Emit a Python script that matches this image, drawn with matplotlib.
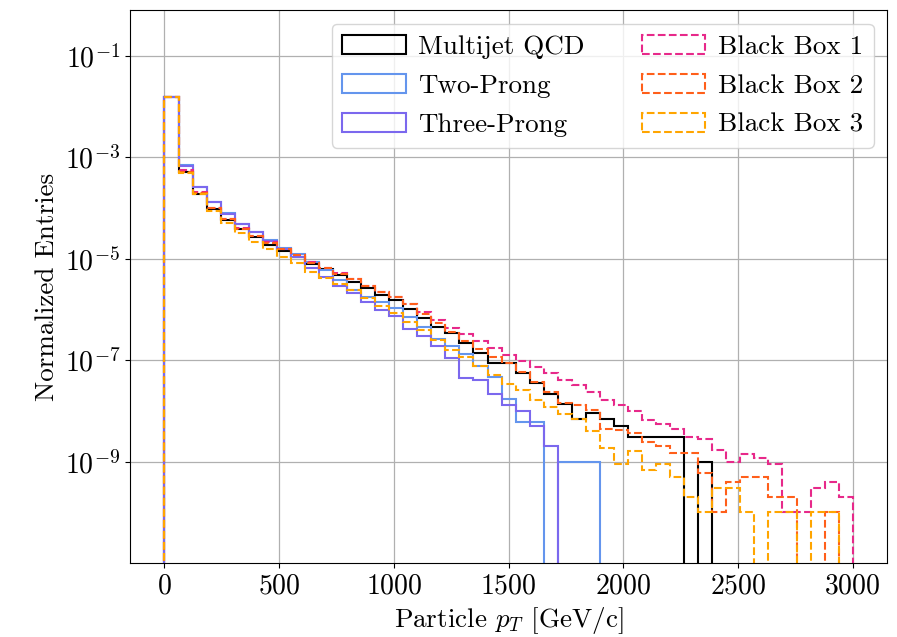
import numpy as np
import matplotlib
matplotlib.use("Agg")
import matplotlib.pyplot as plt
from matplotlib.ticker import NullLocator, FixedLocator

plt.rcParams.update({
    "font.family": "serif",
    "font.serif": ["cmr10"],
    "mathtext.fontset": "cm",
    "axes.formatter.use_mathtext": True,
    "axes.unicode_minus": False,
})

# 49 equal-width bins between 0 and 3000 GeV/c
bin_edges = np.linspace(0, 3000, 50)

multijet_qcd = [
    0.0153, 5.2e-4, 1.94e-4, 9.8e-5, 5.9e-5, 3.85e-5, 2.68e-5, 1.91e-5, 1.44e-5, 1.08e-5,
    8.0e-6, 6.3e-6, 4.84e-6, 3.57e-6, 2.69e-6, 1.95e-6, 1.51e-6, 1.02e-6, 6.7e-7, 4.5e-7,
    3.43e-7, 2.18e-7, 1.39e-7, 9.0e-8, 8.8e-8, 5.7e-8, 3.6e-8, 2.2e-8, 1.4e-8, 7e-9,
    9e-9, 7e-9, 5e-9, 3e-9, 3e-9, 3e-9, 3e-9, 0, 1e-9, 0,
    0, 0, 0, 0, 0, 0, 0, 0, 0,
]
two_prong = [
    0.0153, 7.1e-4, 2.66e-4, 1.35e-4, 8.0e-5, 4.9e-5, 3.4e-5, 2.3e-5, 1.63e-5, 1.22e-5,
    8.7e-6, 5.9e-6, 3.9e-6, 2.4e-6, 1.8e-6, 1.38e-6, 1.07e-6, 7.0e-7, 4.6e-7, 2.6e-7,
    1.9e-7, 1.3e-7, 7.8e-8, 4.7e-8, 1.7e-8, 6e-9, 6e-9, 0, 1e-9, 1e-9,
    1e-9, 0, 0, 0, 0, 0, 0, 0, 0, 0,
    0, 0, 0, 0, 0, 0, 0, 0, 0,
]
three_prong = [
    0.0153, 6.9e-4, 2.62e-4, 1.33e-4, 7.8e-5, 4.8e-5, 3.35e-5, 2.25e-5, 1.58e-5, 1.1e-5,
    6.5e-6, 4.3e-6, 2.94e-6, 2.11e-6, 1.44e-6, 9.9e-7, 7.3e-7, 4.1e-7, 3.0e-7, 1.87e-7,
    1.1e-7, 4.5e-8, 4.1e-8, 2.2e-8, 1.3e-8, 1.0e-8, 5e-9, 2e-9, 0, 0,
    0, 0, 0, 0, 0, 0, 0, 0, 0, 0,
    0, 0, 0, 0, 0, 0, 0, 0, 0,
]
black_box_1 = [
    0.0153, 5.6e-4, 2.05e-4, 1.02e-4, 6.2e-5, 4.0e-5, 2.85e-5, 2.1e-5, 1.57e-5, 1.2e-5,
    8.6e-6, 6.7e-6, 5.2e-6, 4.0e-6, 2.95e-6, 2.25e-6, 1.75e-6, 1.28e-6, 8.75e-7, 6.3e-7,
    4.4e-7, 3.3e-7, 2.35e-7, 1.74e-7, 1.28e-7, 9.5e-8, 7.2e-8, 5.6e-8, 4.0e-8, 3.2e-8,
    2.36e-8, 1.67e-8, 1.31e-8, 9.8e-9, 6.7e-9, 5.6e-9, 4.4e-9, 3.0e-9, 2.8e-9, 1.7e-9,
    1.0e-9, 1.4e-9, 1.2e-9, 9e-10, 1e-10, 1e-10, 3e-10, 4e-10, 2e-10,
]
black_box_2 = [
    0.0153, 5.2e-4, 1.98e-4, 1.0e-4, 6.1e-5, 3.9e-5, 2.8e-5, 2.07e-5, 1.56e-5, 1.2e-5,
    8.45e-6, 6.56e-6, 5.06e-6, 3.98e-6, 2.85e-6, 2.17e-6, 1.73e-6, 1.28e-6, 8.3e-7, 5.4e-7,
    3.53e-7, 2.45e-7, 1.69e-7, 1.16e-7, 9.0e-8, 5.75e-8, 3.8e-8, 2.4e-8, 1.44e-8, 1.33e-8,
    1.03e-8, 4.5e-9, 4.3e-9, 3.7e-9, 2.5e-9, 2.0e-9, 1.5e-9, 1.5e-9, 6e-10, 1e-10,
    4e-10, 5e-10, 5e-10, 2e-10, 2e-10, 0, 0, 1e-10, 0,
]
black_box_3 = [
    0.0153, 5.0e-4, 1.88e-4, 8.8e-5, 5.2e-5, 3.2e-5, 2.19e-5, 1.55e-5, 1.11e-5, 8.2e-6,
    5.6e-6, 4.17e-6, 3.21e-6, 2.45e-6, 1.68e-6, 1.19e-6, 8.5e-7, 5.8e-7, 4.0e-7, 2.54e-7,
    1.61e-7, 1.16e-7, 7.55e-8, 5.2e-8, 3.44e-8, 2.54e-8, 1.67e-8, 1.2e-8, 8.8e-9, 7.0e-9,
    4.0e-9, 1.9e-9, 9e-10, 1.6e-9, 7e-10, 9e-10, 5e-10, 2e-10, 1e-10, 3e-10,
    3e-10, 1e-10, 0, 1e-10, 1e-10, 0, 1e-10, 1e-10, 0,
]

series = [
    ("Multijet QCD", multijet_qcd, "black", "-"),
    ("Two-Prong", two_prong, "#6495ED", "-"),
    ("Three-Prong", three_prong, "#7B68EE", "-"),
    ("Black Box 1", black_box_1, "#e7298a", "--"),
    ("Black Box 2", black_box_2, "#ff5f1a", "--"),
    ("Black Box 3", black_box_3, "#ffa500", "--"),
]

fig = plt.figure(figsize=(8.97, 6.37), dpi=100)
ax = fig.add_axes([0.145, 0.116, 0.844, 0.868])

centers = 0.5 * (bin_edges[:-1] + bin_edges[1:])
for label, vals, color, ls in series:
    ax.hist(centers, bins=bin_edges, weights=vals, histtype="step",
            color=color, linestyle=ls, linewidth=1.5, label=label)

ax.set_yscale("log", nonpositive="clip")
ax.set_xlim(-150, 3150)
ax.set_ylim(1e-11, 0.8)
ax.yaxis.set_major_locator(FixedLocator([1e-9, 1e-7, 1e-5, 1e-3, 1e-1]))
ax.yaxis.set_minor_locator(NullLocator())
ax.set_xticks([0, 500, 1000, 1500, 2000, 2500, 3000])
ax.tick_params(labelsize=20)
ax.grid(True, color="#b0b0b0", linewidth=0.9)
ax.set_axisbelow(True)

ax.set_xlabel(r"Particle $p_T$ [GeV/c]", fontsize=19.5)
ax.set_ylabel("Normalized Entries", fontsize=19.5)

ax.legend(loc="upper right", ncol=2, fontsize=19.5, columnspacing=2.1,
          handlelength=2.35, handletextpad=0.45, labelspacing=0.56,
          borderaxespad=0.5)

fig.savefig("out.png", dpi=100)
